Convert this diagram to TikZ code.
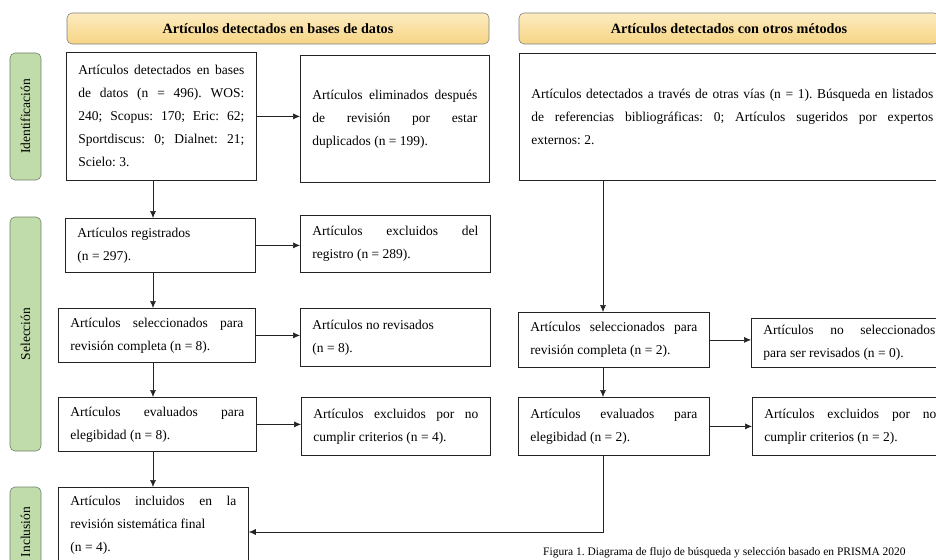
\documentclass[tikz,border=0pt]{standalone}
\usepackage{fontspec}
\setmainfont{Liberation Serif}
\usetikzlibrary{positioning}
\usetikzlibrary{arrows.meta}
\frenchspacing
\definecolor{color-line}{RGB}{35,35,35}
\definecolor{color-head-top}{RGB}{253,236,192}
\definecolor{color-head-bottom}{RGB}{246,212,132}
\definecolor{color-phase}{RGB}{192,220,170}
\definecolor{color-phase-line}{RGB}{115,130,105}

\begin{document}
\begin{tikzpicture}[x=1pt, y=-1pt, >={Latex[length=7pt,width=6pt]},
box/.style={draw=color-line, line width=0.8pt, fill=white, align=justify, inner xsep=12pt, inner ysep=0pt, anchor=north west, font=\fontsize{13.5}{23}\selectfont\frenchspacing},
head/.style={draw=gray, line width=0.6pt, rounded corners=5pt, top color=color-head-top, bottom color=color-head-bottom, minimum height=31pt, font=\fontsize{14.2}{16}\selectfont\bfseries},
phase/.style={draw=color-phase-line, line width=0.6pt, rounded corners=5pt, fill=color-phase, rotate=90, minimum height=31pt, font=\fontsize{13.5}{16}\selectfont},
flow/.style={->, line width=0.6pt, color-line}]
\useasboundingbox (0,0) rectangle (936,559);

% headers
\node [head, minimum width=422pt] (h1) at (278,28.5) {Artículos detectados en bases de datos};
\node [head, minimum width=420pt] (h2) at (729,28.5) {Artículos detectados con otros métodos};

% phases
\node [phase, minimum width=127pt] (p1) at (25.5,116.5) {Identificación};
\node [phase, minimum width=234pt] (p2) at (25.5,334) {Selección};
\node [phase, minimum width=90pt] (p3) at (25.5,532) {Inclusión};

% left column
\node [box, text width=166pt, minimum height=128pt] (a1) at (66,52) {Artículos detectados en bases\linebreak de datos (n = 496). WOS:\linebreak 240; Scopus: 170; Eric: 62;\linebreak Sportdiscus: 0; Dialnet: 21;\linebreak Scielo: 3.};
\node [box, text width=165pt, minimum height=127pt] (a2) at (300,55) {Artículos eliminados después\linebreak de revisión por estar\linebreak duplicados (n = 199).};
\node [box, text width=166pt, minimum height=54pt] (b1) at (65,218) {Artículos registrados\\ (n = 297).};
\node [box, text width=166pt, minimum height=57pt] (b2) at (300,215) {Artículos excluidos del\linebreak registro (n = 289).};
\node [box, text width=173pt, minimum height=54pt] (c1) at (58,308) {Artículos seleccionados para\linebreak revisión completa (n = 8).};
\node [box, text width=166pt, minimum height=58pt] (c2) at (300,308) {Artículos no revisados\\ (n = 8).};
\node [box, text width=174pt, minimum height=54pt] (d1) at (58,397) {Artículos evaluados para\linebreak elegibidad (n = 8).};
\node [box, text width=165pt, minimum height=58pt] (d2) at (301,397) {Artículos excluidos por no\linebreak cumplir criterios (n = 4).};
\node [box, text width=166pt, minimum height=76pt] (e1) at (58,487) {Artículos incluidos en la\linebreak revisión sistemática final\\ (n = 4).};

% right column
\node [box, text width=402pt, minimum height=127pt] (r1) at (519,53) {Artículos detectados a través de otras vías (n = 1). Búsqueda en listados\linebreak de referencias bibliográficas: 0; Artículos sugeridos por expertos\linebreak externos: 2.};
\node [box, text width=167pt, minimum height=55pt] (r2) at (518,312) {Artículos seleccionados para\linebreak revisión completa (n = 2).};
\node [box, text width=172pt, minimum height=49pt] (r3) at (751,318) {Artículos no seleccionados\linebreak para ser revisados (n = 0).};
\node [box, text width=167pt, minimum height=58pt] (r4) at (518,397) {Artículos evaluados para\linebreak elegibidad (n = 2).};
\node [box, text width=172pt, minimum height=58pt] (r5) at (752,397) {Artículos excluidos por no\linebreak cumplir criterios (n = 2).};

% caption
\node [anchor=base west, inner sep=0pt, font=\fontsize{11.5}{14}\selectfont] (cap) at (543,555) {Figura 1. Diagrama de flujo de búsqueda y selección basado en PRISMA 2020};

% columns of the vertical arrows
\coordinate (lcol) at (153,0);
\coordinate (rcol) at (603,0);
\coordinate (turn) at (603,532);

% vertical flow
\draw [flow] (a1.south -| lcol) -- (b1.north -| lcol);
\draw [flow] (b1.south -| lcol) -- (c1.north -| lcol);
\draw [flow] (c1.south -| lcol) -- (d1.north -| lcol);
\draw [flow] (d1.south -| lcol) -- (e1.north -| lcol);
\draw [flow] (r1.south -| rcol) -- (r2.north -| rcol);
\draw [flow] (r2.south -| rcol) -- (r4.north -| rcol);
\draw [flow] (r4.south -| rcol) -- (turn) -- (e1.east |- turn);

% exclusions
\draw [flow] (a1.east) -- (a1.east -| a2.west);
\draw [flow] (b1.east) -- (b1.east -| b2.west);
\draw [flow] (c1.east) -- (c1.east -| c2.west);
\draw [flow] (d1.east) -- (d1.east -| d2.west);
\draw [flow] (r2.east) -- (r2.east -| r3.west);
\draw [flow] (r4.east) -- (r4.east -| r5.west);
\end{tikzpicture}
\end{document}
